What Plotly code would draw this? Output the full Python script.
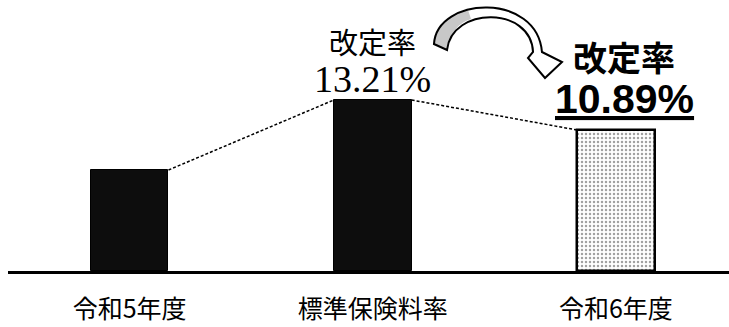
import plotly.graph_objects as go

# Data
categories = ["令和5年度", "標準保険料率", "令和6年度"]
bar_values = [101, 171, 141]          # relative bar heights (illustrative)
rate_title = "改定率"
standard_rate = "13.21%"
new_rate = "10.89%"

bar_width = 0.32
x_pos = list(range(len(categories)))

W, H = 729, 327
m_l, m_r, m_t, m_b = 8, 0, 0, 56
plot_w, plot_h = W - m_l - m_r, H - m_t - m_b

def px(X, Y):
    # pixel position -> paper coords (for the decorative arrow)
    return f"{(X - m_l) / plot_w:.4f},{(plot_h - (Y - m_t)) / plot_h:.4f}"

fig = go.Figure()

# Bars
fig.add_trace(go.Bar(
    x=x_pos, y=bar_values, width=bar_width,
    marker=dict(
        color=["#0d0d0d", "#0d0d0d", "white"],
        line=dict(color="black", width=[1, 1, 2.5]),
        pattern=dict(shape=["", "", "."], fgcolor="#9a9a9a", bgcolor="white",
                     size=4, solidity=0.3),
    ),
    showlegend=False, hoverinfo="skip",
))

# Dotted connectors between bar tops
for i in range(len(categories) - 1):
    fig.add_trace(go.Scatter(
        x=[x_pos[i] + bar_width / 2, x_pos[i + 1] - bar_width / 2],
        y=[bar_values[i], bar_values[i + 1]],
        mode="lines", line=dict(color="black", width=1.5, dash="3px,2px"),
        showlegend=False, hoverinfo="skip",
    ))

# Annotations
jp = "Noto Sans CJK JP"
fig.add_annotation(x=1, y=230, xref="x", yref="y", text=rate_title, showarrow=False,
                   font=dict(family=jp, size=29, color="black"))
fig.add_annotation(x=1, y=192, xref="x", yref="y", text=standard_rate, showarrow=False,
                   font=dict(family="Liberation Serif", size=38, color="black"))
fig.add_annotation(x=2, y=215, xref="x", yref="y", xshift=8, text=f"<b>{rate_title}</b>",
                   showarrow=False, font=dict(family=jp, size=34, color="black"))
fig.add_annotation(x=2, y=172, xref="x", yref="y", xshift=9, text=f"<b><u>{new_rate}</u></b>",
                   showarrow=False, font=dict(family="Liberation Sans", size=41, color="black"))

# Curved arrow (decoration)
gray_part = (f"M {px(434,44)} Q {px(438,17)} {px(468,10)} L {px(471,19)} "
             f"Q {px(451,25)} {px(447,50)} Z")
arrow = (f"M {px(434,44)} C {px(437,-4)} {px(537,-8)} {px(542,52)} "
         f"L {px(562,62)} L {px(545,78)} L {px(528,58)} L {px(533,52)} "
         f"C {px(531,6)} {px(452,6)} {px(447,50)} Z")
fig.add_shape(type="path", path=gray_part, xref="paper", yref="paper",
              fillcolor="#c8c8c8", line=dict(width=0), layer="above")
fig.add_shape(type="path", path=arrow, xref="paper", yref="paper",
              fillcolor="rgba(0,0,0,0)", line=dict(color="black", width=2), layer="above")

fig.update_xaxes(range=[-0.5, 2.465], tickvals=x_pos, ticktext=categories,
                 showline=True, linecolor="black", linewidth=2.5,
                 ticks="outside", ticklen=14, tickcolor="rgba(0,0,0,0)",
                 tickfont=dict(family=jp, size=25, color="black"),
                 showgrid=False, zeroline=False)
fig.update_yaxes(range=[0, plot_h], visible=False, showgrid=False)

fig.update_layout(
    width=W, height=H,
    margin=dict(l=m_l, r=m_r, t=m_t, b=m_b),
    plot_bgcolor="white", paper_bgcolor="white",
    bargap=0,
)

# page body has a default 8px margin; remove it so the figure sits at 0,0
fig.write_html("out.html", config={"displayModeBar": False},
               post_script="document.body.style.margin='0';")
